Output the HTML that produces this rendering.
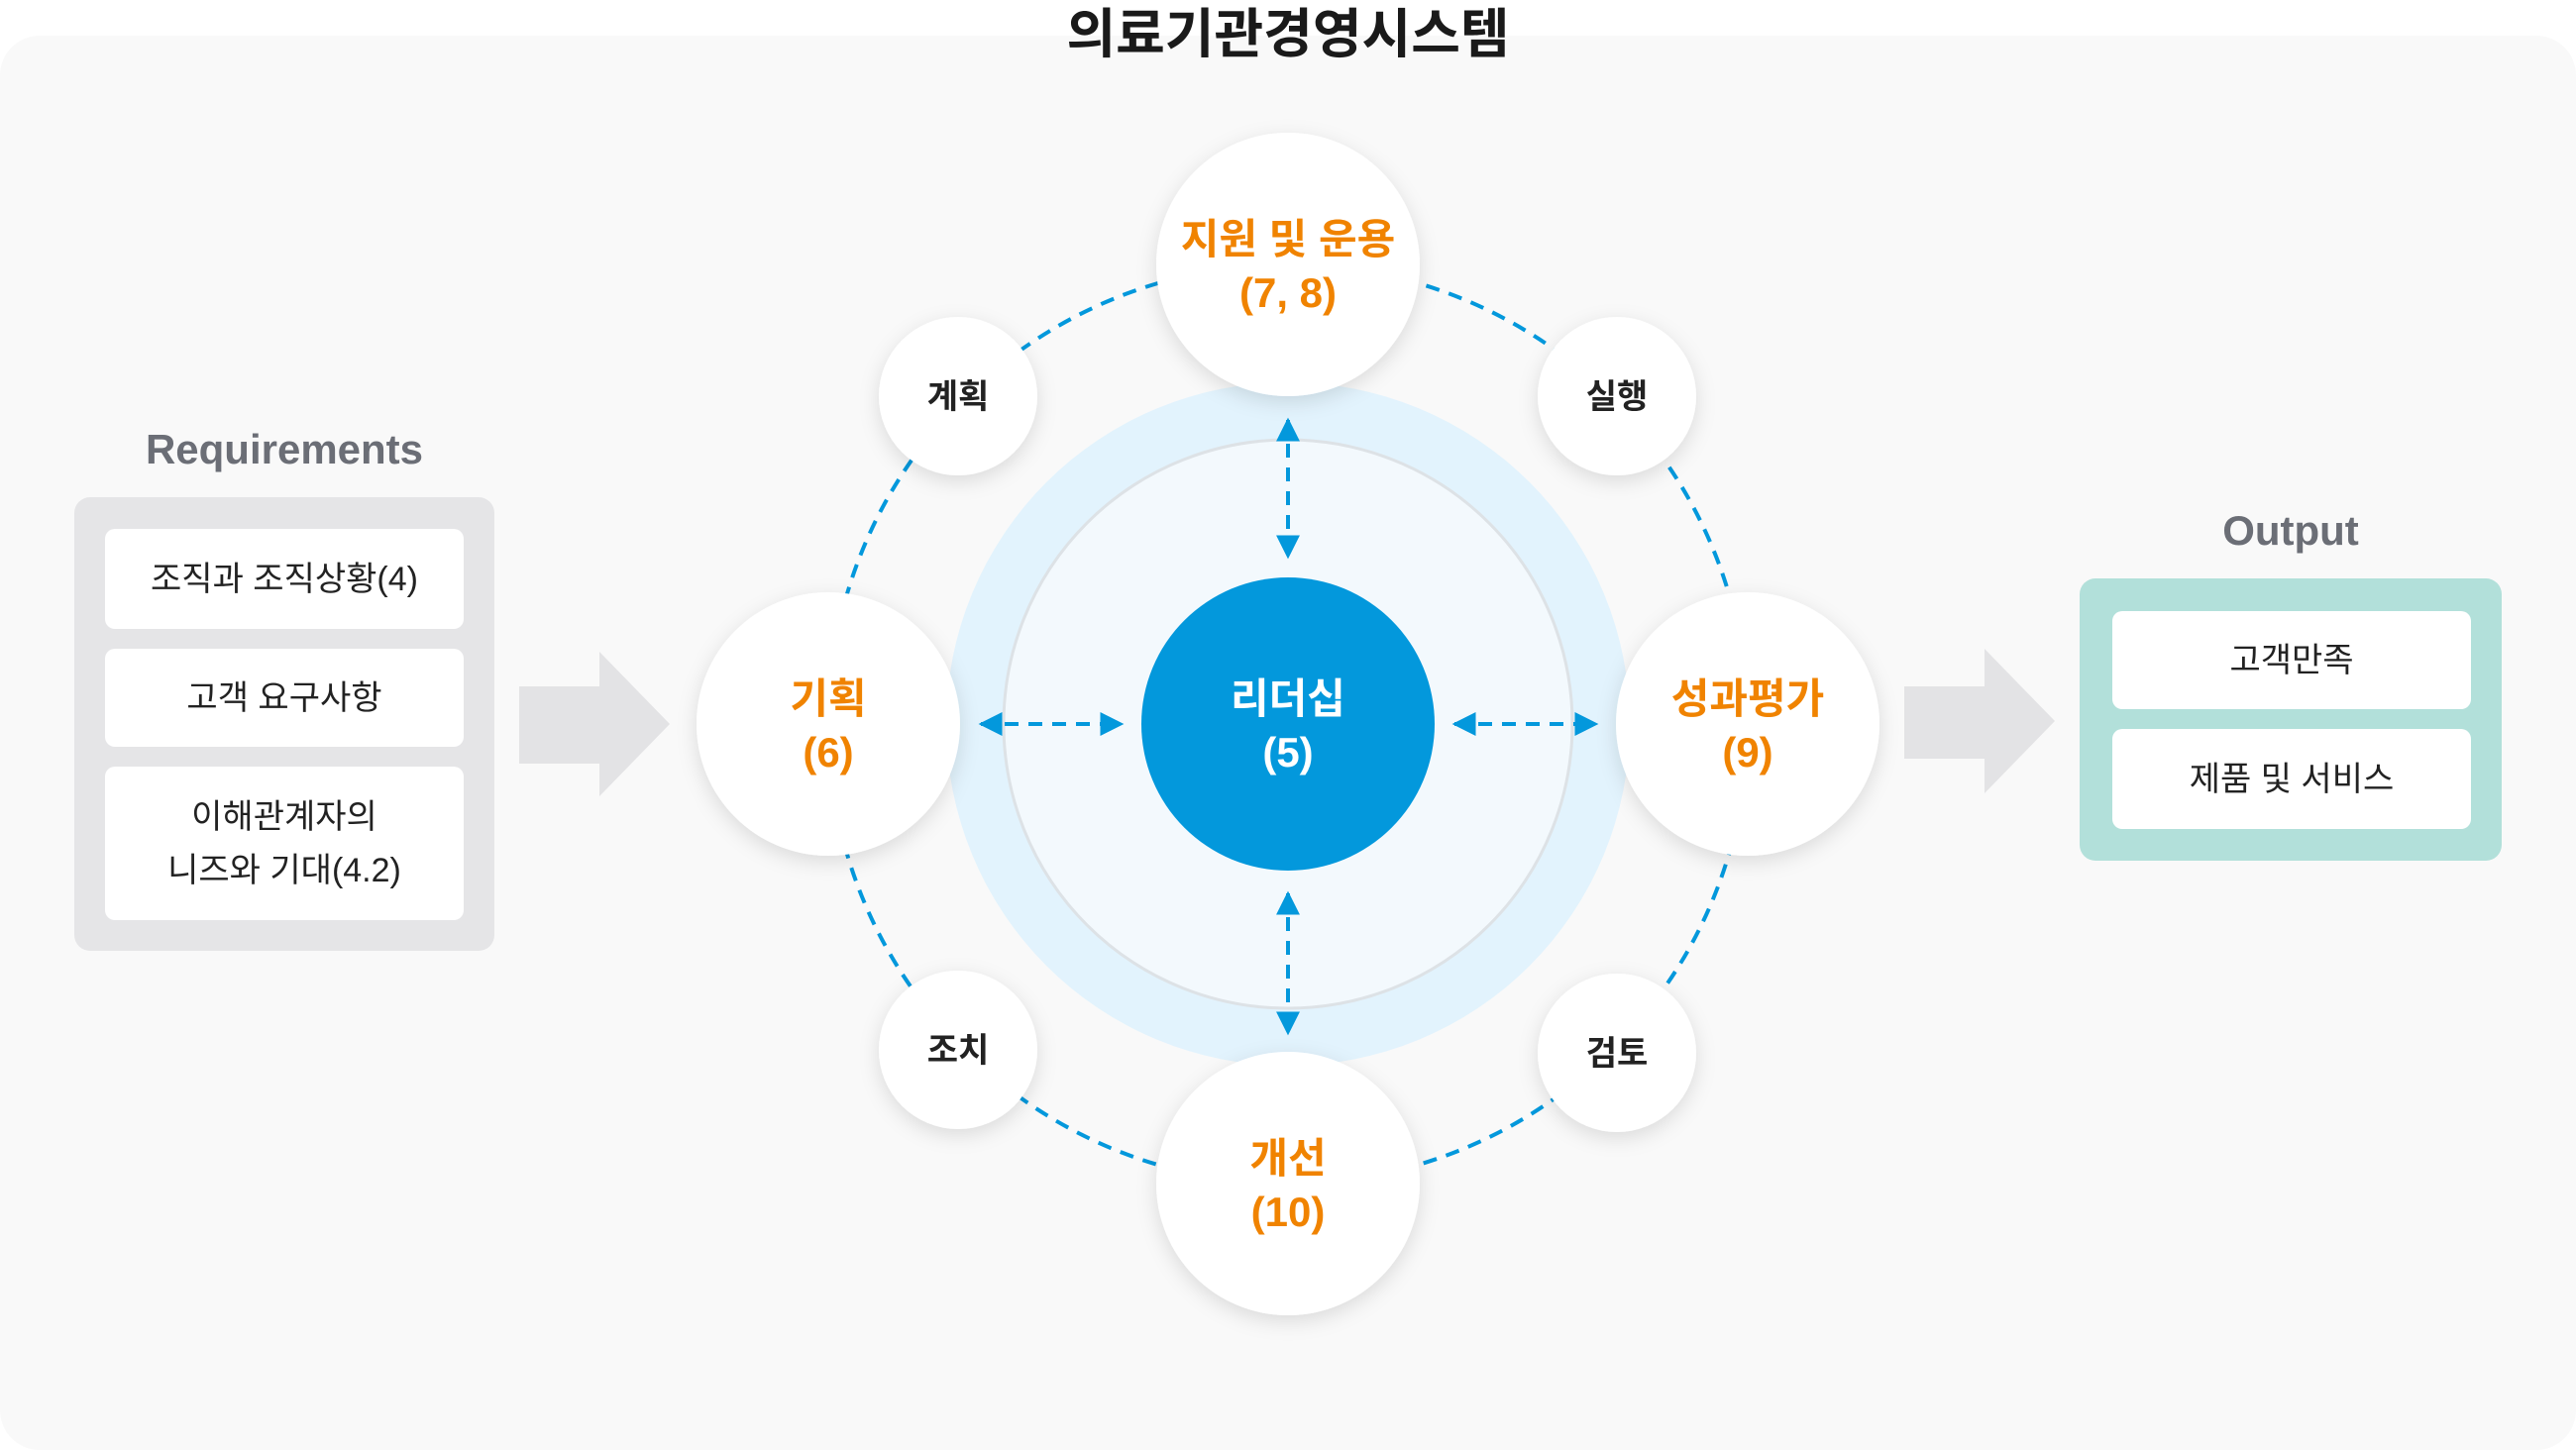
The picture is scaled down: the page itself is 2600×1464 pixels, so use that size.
<!DOCTYPE html>
<html><head><meta charset="utf-8"><style>
html,body{margin:0;padding:0;width:2600px;height:1464px;background:#fff;overflow:hidden}
body{position:relative;font-family:"Liberation Sans","Noto Sans CJK KR",sans-serif}
.abs{position:absolute}
.panel{left:0;top:36px;width:2600px;height:1428px;background:#f9f9f9;border-radius:40px}
.title{left:0;width:2600px;top:0;text-align:center;font-size:54px;font-weight:700;color:#1a1a1a;line-height:70px}
.lbl{font-size:42px;font-weight:700;color:#6b6e76;text-align:center}
.box{background:#fff;border-radius:10px;display:flex;align-items:center;justify-content:center;text-align:center;font-size:34px;color:#222;line-height:54px}
</style></head><body>
<div class="abs panel"></div>
<div class="abs title">의료기관경영시스템</div>

<div class="abs lbl" style="left:75px;width:424px;top:430px">Requirements</div>
<div class="abs" style="left:75px;top:502px;width:424px;height:458px;background:#e5e5e7;border-radius:16px"></div>
<div class="abs box" style="left:106px;top:534px;width:362px;height:101px">조직과 조직상황(4)</div>
<div class="abs box" style="left:106px;top:655px;width:362px;height:99px">고객 요구사항</div>
<div class="abs box" style="left:106px;top:774px;width:362px;height:155px">이해관계자의<br>니즈와 기대(4.2)</div>

<div class="abs lbl" style="left:2099px;width:426px;top:512px">Output</div>
<div class="abs" style="left:2099px;top:584px;width:426px;height:285px;background:#b2e0da;border-radius:16px"></div>
<div class="abs box" style="left:2132px;top:617px;width:362px;height:99px">고객만족</div>
<div class="abs box" style="left:2132px;top:736px;width:362px;height:101px">제품 및 서비스</div>

<svg class="abs" style="left:0;top:0" width="2600" height="1464" viewBox="0 0 2600 1464">
<defs>
<filter id="sh" x="-30%" y="-30%" width="160%" height="160%"><feDropShadow dx="0" dy="6" stdDeviation="10" flood-color="#000" flood-opacity="0.12"/></filter>
<marker id="ar" viewBox="0 0 10 10" refX="9" refY="5" markerWidth="6" markerHeight="6" orient="auto-start-reverse"><path d="M0,0 L10,5 L0,10 z" fill="#0398dc"/></marker>
</defs>
<polygon points="524,693 605,693 605,658 676,731 605,804 605,771 524,771" fill="#e3e3e5"/>
<polygon points="1922,693 2003,693 2003,655 2074,728 2003,801 2003,766 1922,766" fill="#e3e3e5"/>
<circle cx="1300" cy="731" r="464" fill="none" stroke="#0398dc" stroke-width="4" stroke-dasharray="14 10"/>
<circle cx="1300" cy="731" r="345" fill="#e2f3fd"/>
<circle cx="1300" cy="731" r="287" fill="#f3f9fd" stroke="#dde2e6" stroke-width="3"/>
<circle cx="1300" cy="731" r="148" fill="#0398dc"/>
<g stroke="#0398dc" stroke-width="4" stroke-dasharray="14 10" fill="none">
<line x1="1300" y1="424" x2="1300" y2="562" marker-start="url(#ar)" marker-end="url(#ar)"/>
<line x1="1300" y1="902" x2="1300" y2="1043" marker-start="url(#ar)" marker-end="url(#ar)"/>
<line x1="990" y1="731" x2="1132" y2="731" marker-start="url(#ar)" marker-end="url(#ar)"/>
<line x1="1468" y1="731" x2="1611" y2="731" marker-start="url(#ar)" marker-end="url(#ar)"/>
</g>
<g fill="#fff" filter="url(#sh)">
<circle cx="1300" cy="267" r="133"/><circle cx="836" cy="731" r="133"/>
<circle cx="1764" cy="731" r="133"/><circle cx="1300" cy="1195" r="133"/>
<circle cx="967" cy="400" r="80"/><circle cx="1632" cy="400" r="80"/>
<circle cx="967" cy="1060" r="80"/><circle cx="1632" cy="1063" r="80"/>
</g>
<g font-family="Liberation Sans, Noto Sans CJK KR, sans-serif" font-weight="700" text-anchor="middle" font-size="42" fill="#f08300">
<text x="1300" y="256">지원 및 운용</text><text x="1300" y="310">(7, 8)</text>
<text x="836" y="720">기획</text><text x="836" y="774">(6)</text>
<text x="1764" y="720">성과평가</text><text x="1764" y="774">(9)</text>
<text x="1300" y="1184">개선</text><text x="1300" y="1238">(10)</text>
<text x="1300" y="720" fill="#fff">리더십</text><text x="1300" y="774" fill="#fff">(5)</text>
</g>
<g font-family="Liberation Sans, Noto Sans CJK KR, sans-serif" font-weight="700" text-anchor="middle" font-size="34" fill="#222">
<text x="967" y="412">계획</text><text x="1632" y="412">실행</text>
<text x="967" y="1072">조치</text><text x="1632" y="1075">검토</text>
</g>
</svg>
</body></html>
